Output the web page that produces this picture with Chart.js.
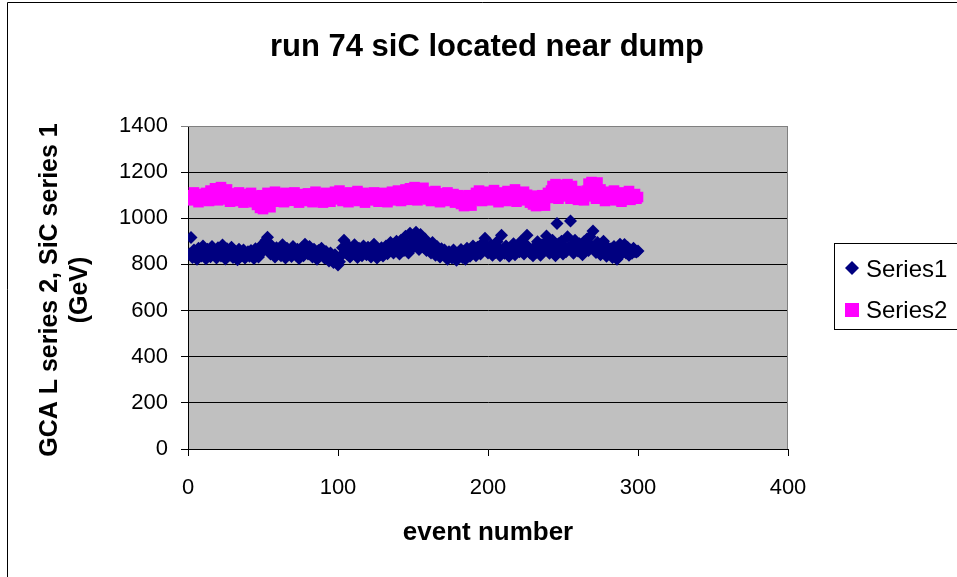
<!DOCTYPE html>
<html><head><meta charset="utf-8">
<script src="https://cdn.jsdelivr.net/npm/chart.js@4/dist/chart.umd.min.js"></script>
<style>html,body{margin:0;padding:0;background:#fff;}canvas{display:block}</style>
</head><body>
<canvas id="c" width="957" height="577"></canvas>
<script>
const titleText = "run 74 siC located near dump";
const xTitle = "event number";
const yTitleLines = ["GCA L series 2, SiC series 1", "(GeV)"];
const seriesNames = ["Series1", "Series2"];
const xTicks = [0, 100, 200, 300, 400];
const yTicks = [0, 200, 400, 600, 800, 1000, 1200, 1400];

const events = [
  1,2,3,4,5,6,7,8,9,10,11,12,13,14,15,16,17,18,19,20,
  21,22,23,24,25,26,27,28,29,30,31,32,33,34,35,36,37,38,39,40,
  41,42,43,44,45,46,47,48,49,50,51,52,53,54,55,56,57,58,59,60,
  61,62,63,64,65,66,67,68,69,70,71,72,73,74,75,76,77,78,79,80,
  81,82,83,84,85,86,87,88,89,90,91,92,93,94,95,96,97,98,99,100,
  101,102,103,104,105,106,107,108,109,110,111,112,113,114,115,116,117,118,119,120,
  121,122,123,124,125,126,127,128,129,130,131,132,133,134,135,136,137,138,139,140,
  141,142,143,144,145,146,147,148,149,150,151,152,153,154,155,156,157,158,159,160,
  161,162,163,164,165,166,167,168,169,170,171,172,173,174,175,176,177,178,179,180,
  181,182,183,184,185,186,187,188,189,190,191,192,193,194,195,196,197,198,199,200,
  201,202,203,204,205,206,207,208,209,210,211,212,213,214,215,216,217,218,219,220,
  221,222,223,224,225,226,227,228,229,230,231,232,233,234,235,236,237,238,239,240,
  241,242,243,244,245,246,247,248,249,250,251,252,253,254,255,256,257,258,259,260,
  261,262,263,264,265,266,267,268,269,270,271,272,273,274,275,276,277,278,279,280,
  281,282,283,284,285,286,287,288,289,290,291,292,293,294,295,296,297,298,299,300
];
const series1 = [
  845,917,830,862,848,822,870,855,836,880, 842,825,866,851,833,878,846,860,828,872,
  850,836,884,845,823,868,856,840,875,830, 858,845,820,866,850,838,862,828,846,855,
  835,860,842,826,868,848,832,875,852,890, 866,905,918,870,845,880,858,832,872,848,
  862,838,885,852,828,870,846,860,834,878, 855,840,866,826,850,872,838,888,860,845,
  878,850,832,866,845,822,860,838,870,848, 828,856,840,815,850,830,808,842,820,798,
  812,838,872,905,860,845,880,832,866,850, 885,848,830,870,855,838,880,860,842,875,
  850,832,866,888,845,828,860,842,872,836, 858,880,846,862,895,868,850,885,900,862,
  845,905,878,860,922,888,850,935,870,900, 880,940,912,865,930,895,875,910,860,888,
  872,850,895,862,840,878,855,832,868,848, 862,838,822,855,845,828,862,836,818,850,
  842,865,830,856,822,870,848,835,862,880, 852,838,875,858,845,890,868,914,878,850,
  862,885,840,868,852,898,870,838,927,865, 848,880,860,835,872,850,890,842,866,875,
  855,900,870,845,888,926,872,850,862,838, 875,852,898,868,840,885,862,890,923,870,
  848,880,905,862,838,977,890,865,900,845, 878,855,920,872,988,885,848,905,870,858,
  890,865,842,898,875,910,860,920,880,945, 870,852,895,865,842,882,900,858,835,872,
  850,868,830,878,855,822,862,888,845,870, 886,850,875,840,862,848,870,855,854,858
];
const series2 = [
  1090,1100,1078,1112,1085,1095,1070,1105,1088,1098, 1080,1110,1092,1075,1120,1100,1085,1130,1095,1078,
  1115,1135,1090,1105,1082,1125,1098,1072,1108,1088, 1100,1075,1095,1112,1080,1090,1068,1105,1085,1098,
  1078,1110,1088,1070,1095,1058,1080,1045,1100,1040, 1062,1088,1110,1075,1048,1098,1085,1115,1072,1095,
  1105,1082,1092,1070,1110,1088,1100,1076,1095,1085, 1112,1080,1098,1068,1090,1105,1082,1095,1075,1108,
  1088,1100,1070,1092,1115,1085,1078,1102,1090,1068, 1098,1110,1080,1095,1072,1105,1088,1115,1082,1100,
  1120,1092,1075,1108,1085,1098,1070,1112,1090,1080, 1102,1088,1118,1075,1095,1082,1110,1068,1098,1085,
  1105,1078,1092,1112,1080,1100,1072,1095,1088,1110, 1082,1098,1070,1105,1090,1115,1078,1100,1085,1120,
  1095,1075,1110,1088,1125,1100,1080,1130,1092,1112, 1135,1098,1078,1122,1105,1088,1132,1095,1115,1082,
  1100,1075,1110,1090,1118,1085,1102,1070,1095,1108, 1080,1098,1112,1075,1092,1085,1105,1068,1090,1100,
  1078,1062,1095,1053,1085,1058,1100,1070,1055,1092, 1080,1110,1088,1120,1095,1075,1105,1085,1115,1098,
  1078,1108,1090,1122,1082,1100,1070,1095,1112,1088, 1100,1075,1118,1092,1080,1105,1088,1125,1072,1098,
  1110,1085,1095,1115,1078,1102,1088,1068,1098,1060, 1085,1053,1095,1072,1058,1100,1080,1055,1092,1110,
  1088,1120,1140,1098,1148,1105,1085,1135,1112,1145, 1095,1128,1148,1100,1085,1140,1110,1092,1118,1080,
  1105,1090,1112,1078,1098,1120,1150,1095,1157,1108, 1140,1085,1155,1100,1125,1088,1110,1075,1102,1095,
  1115,1082,1098,1120,1078,1105,1090,1112,1072,1100, 1085,1108,1095,1118,1080,1100,1090,1105,1085,1092
];

const FONT = '"Liberation Sans", Arial, sans-serif';
const pts1 = events.map((e, i) => ({x: e, y: series1[i]}));
const pts2 = events.map((e, i) => ({x: e, y: series2[i]}));

const decor = {
  id: 'decor',
  beforeDraw(chart) {
    const ctx = chart.ctx;
    const a = chart.chartArea;
    ctx.save();
    ctx.fillStyle = '#fff';
    ctx.fillRect(0, 0, chart.width, chart.height);
    ctx.strokeStyle = '#000';
    ctx.lineWidth = 1;
    ctx.beginPath();
    ctx.moveTo(7.5, chart.height);
    ctx.lineTo(7.5, 2.5);
    ctx.lineTo(chart.width, 2.5);
    ctx.stroke();
    ctx.fillStyle = '#C0C0C0';
    ctx.fillRect(a.left, a.top, a.right - a.left, a.bottom - a.top);
    ctx.restore();
  },
  beforeDatasetsDraw(chart) {
    const ctx = chart.ctx;
    const a = chart.chartArea;
    ctx.save();
    ctx.strokeStyle = '#808080';
    ctx.lineWidth = 1;
    ctx.beginPath();
    ctx.moveTo(a.left, a.top + 0.5);
    ctx.lineTo(a.right - 0.5, a.top + 0.5);
    ctx.lineTo(a.right - 0.5, a.bottom);
    ctx.stroke();
    ctx.restore();
  },
  afterDraw(chart) {
    const ctx = chart.ctx;
    const a = chart.chartArea;
    ctx.save();
    ctx.fillStyle = '#000';
    ctx.font = 'bold 31px ' + FONT;
    ctx.textAlign = 'center';
    ctx.textBaseline = 'alphabetic';
    ctx.fillText(titleText, 487, 56);
    ctx.font = 'bold 26px ' + FONT;
    ctx.fillText(xTitle, (a.left + a.right) / 2, 540);
    ctx.font = 'bold 25px ' + FONT;
    ctx.save();
    ctx.translate(57, 290);
    ctx.rotate(-Math.PI / 2);
    ctx.fillText(yTitleLines[0], 0, 0);
    ctx.fillText(yTitleLines[1], 0, 30);
    ctx.restore();
    ctx.strokeStyle = '#000';
    ctx.lineWidth = 1;
    ctx.strokeRect(834.5, 243.5, 200, 86);
    ctx.fillStyle = '#000080';
    ctx.beginPath();
    ctx.moveTo(852, 261); ctx.lineTo(859, 268); ctx.lineTo(852, 275); ctx.lineTo(845, 268);
    ctx.closePath(); ctx.fill();
    ctx.fillStyle = '#FF00FF';
    ctx.fillRect(845, 303, 14, 14);
    ctx.fillStyle = '#000';
    ctx.font = '24px ' + FONT;
    ctx.textAlign = 'left';
    ctx.fillText(seriesNames[0], 866, 277);
    ctx.fillText(seriesNames[1], 866, 318);
    ctx.restore();
  }
};

new Chart(document.getElementById('c'), {
  type: 'scatter',
  data: {
    datasets: [
      {label: seriesNames[0], data: pts1, pointStyle: 'rectRot', pointRadius: 6.5,
       backgroundColor: '#000080', borderColor: '#000080', borderWidth: 0, pointHoverRadius: 6.5},
      {label: seriesNames[1], data: pts2, pointStyle: 'rect', pointRadius: 7.5,
       backgroundColor: '#FF00FF', borderColor: '#FF00FF', borderWidth: 0, pointHoverRadius: 7.5}
    ]
  },
  options: {
    responsive: false,
    animation: false,
    devicePixelRatio: 1,
    events: [],
    layout: {padding: {left: 0, top: 126, right: 169, bottom: 0}},
    plugins: {legend: {display: false}, title: {display: false}, tooltip: {enabled: false}},
    scales: {
      x: {
        type: 'linear', min: 0, max: 400,
        afterFit(s) { s.height = 128; },
        afterBuildTicks(s) { s.ticks = xTicks.map(v => ({value: v})); },
        ticks: {color: '#000', font: {family: FONT, size: 22}, padding: 19, maxRotation: 0,
                callback: (v) => String(v)},
        grid: {drawOnChartArea: false, drawTicks: true, tickLength: 7, color: '#000'},
        border: {color: '#000', width: 1}
      },
      y: {
        min: 0, max: 1400,
        afterFit(s) { s.width = 188; },
        afterBuildTicks(s) { s.ticks = yTicks.map(v => ({value: v})); },
        ticks: {color: '#000', font: {family: FONT, size: 22}, padding: 13,
                callback: (v) => String(v)},
        grid: {drawTicks: true, tickLength: 7, color: (c) => (c.tick && c.tick.value === 1400 ? '#808080' : '#000')},
        border: {color: '#000', width: 1}
      }
    }
  },
  plugins: [decor]
});
</script>
</body></html>
